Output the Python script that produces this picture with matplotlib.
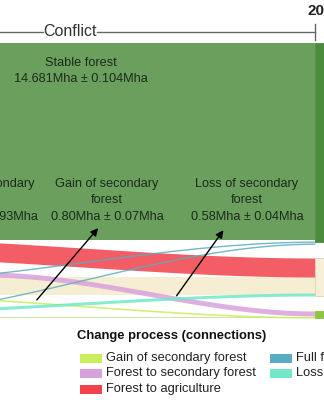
import numpy as np
import matplotlib.pyplot as plt
from matplotlib.patches import Rectangle

plt.rcParams['font.family'] = ['Liberation Sans', 'DejaVu Sans']

# change processes (legend order, column by column)
proc_names = ['Gain of secondary forest', 'Forest to secondary forest',
              'Forest to agriculture', 'Full forest regrowth',
              'Loss of secondary forest']
proc_colors = ['#c9ee5c', '#d9a1dc', '#f2424b', '#5aacc0', '#72e8c8']

# connections: process, start x, top at start, top at end, thickness
link_proc = [2, 1, 0, 4, 3, 3]
link_x0 = [-150, -15, -150, -150, -150, -150]
link_top0 = [238, 272, 294, 311, 282, 316]
link_top1 = [258, 311, 316.5, 293, 241, 243]
link_width = [19, 5, 1.6, 3, 1.4, 1.4]

# flat bands that stay in the same class
band_names = ['Stable forest', 'Stable agriculture', 'Stable secondary forest']
band_top = [43, 277, 316.5]
band_bottom = [240, 295, 318]
band_colors = ['#6b9f5d', '#f6eed3', '#cfe3a2']

# nodes at the right-hand year
node_top = [43, 258, 311]
node_bottom = [242, 296, 318]
node_colors = ['#4b8b3c', '#f7efd7', '#8dc63f']

# annotated group labels
group_text = ['Stable forest\n14.681Mha ± 0.104Mha',
              'Forest to secondary\nforest\n1.05Mha ± 0.093Mha',
              'Gain of secondary\nforest\n0.80Mha ± 0.07Mha',
              'Loss of secondary\nforest\n0.58Mha ± 0.04Mha']
group_x = [81, -22, 107, 247]
group_y = [56.5, 177.5, 177.5, 177.5]

x_end = 315

fig = plt.figure(figsize=(3.24, 4.0), dpi=100)
ax = fig.add_axes([0, 0, 1, 1])
ax.set_xlim(0, 324)
ax.set_ylim(400, 0)
ax.axis('off')

for top, bot, c in zip(band_top, band_bottom, band_colors):
    ax.fill_between([-5, x_end], top, bot, color=c, lw=0, zorder=1)

def smooth(x, x0, y0, y1):
    u = np.clip((x - x0) / (x_end - x0), 0, 1)
    return y0 + (y1 - y0) * (3 * u**2 - 2 * u**3)

xs = np.linspace(-5, x_end, 300)
for p, x0, t0, t1, w in zip(link_proc, link_x0, link_top0, link_top1, link_width):
    top = smooth(xs, x0, t0, t1)
    ax.fill_between(xs, top, top + w, color=proc_colors[p], alpha=0.85,
                    lw=0, zorder=2)

for top, bot, c in zip(node_top, node_bottom, node_colors):
    ax.add_patch(Rectangle((x_end, top), 12, bot - top, facecolor=c,
                           edgecolor='#d8d0b8' if c == '#f7efd7' else c,
                           lw=0.6, zorder=3))

# period axis
ax.plot([-5, 43], [32, 32], color='#666666', lw=1)
ax.plot([97, x_end], [32, 32], color='#666666', lw=1)
ax.plot([x_end, x_end], [24, 40], color='#666666', lw=1)
ax.text(70, 32, 'Conflict', ha='center', va='center', fontsize=11.5,
        color='#333333')
ax.text(x_end - 7, 11, '2020', ha='left', va='center', fontsize=11,
        fontweight='bold', color='#222222')

for t, x, y in zip(group_text, group_x, group_y):
    ax.text(x, y, t, ha='center', va='top', fontsize=9.2, color='#1c2b1a',
            linespacing=1.55, zorder=5)

ax.annotate('', xy=(100, 226), xytext=(35, 302),
            arrowprops=dict(arrowstyle='-|>', color='black', lw=1,
                            mutation_scale=11), zorder=6)
ax.annotate('', xy=(225, 228), xytext=(175, 298),
            arrowprops=dict(arrowstyle='-|>', color='black', lw=1,
                            mutation_scale=11), zorder=6)

# legend
ax.text(77, 336, 'Change process (connections)', ha='left', va='center',
        fontsize=9.4, fontweight='bold', color='#111111')
leg_col_x = [80, 270]
leg_row_y = [358, 373, 389]
for i, (name, c) in enumerate(zip(proc_names, proc_colors)):
    lx = leg_col_x[i // 3]
    ly = leg_row_y[i % 3]
    ax.add_patch(Rectangle((lx, ly - 4.5), 22, 9, facecolor=c, lw=0))
    ax.text(lx + 26, ly, name, ha='left', va='center', fontsize=9.3,
            color='#222222')

fig.savefig('out.png', dpi=100)
